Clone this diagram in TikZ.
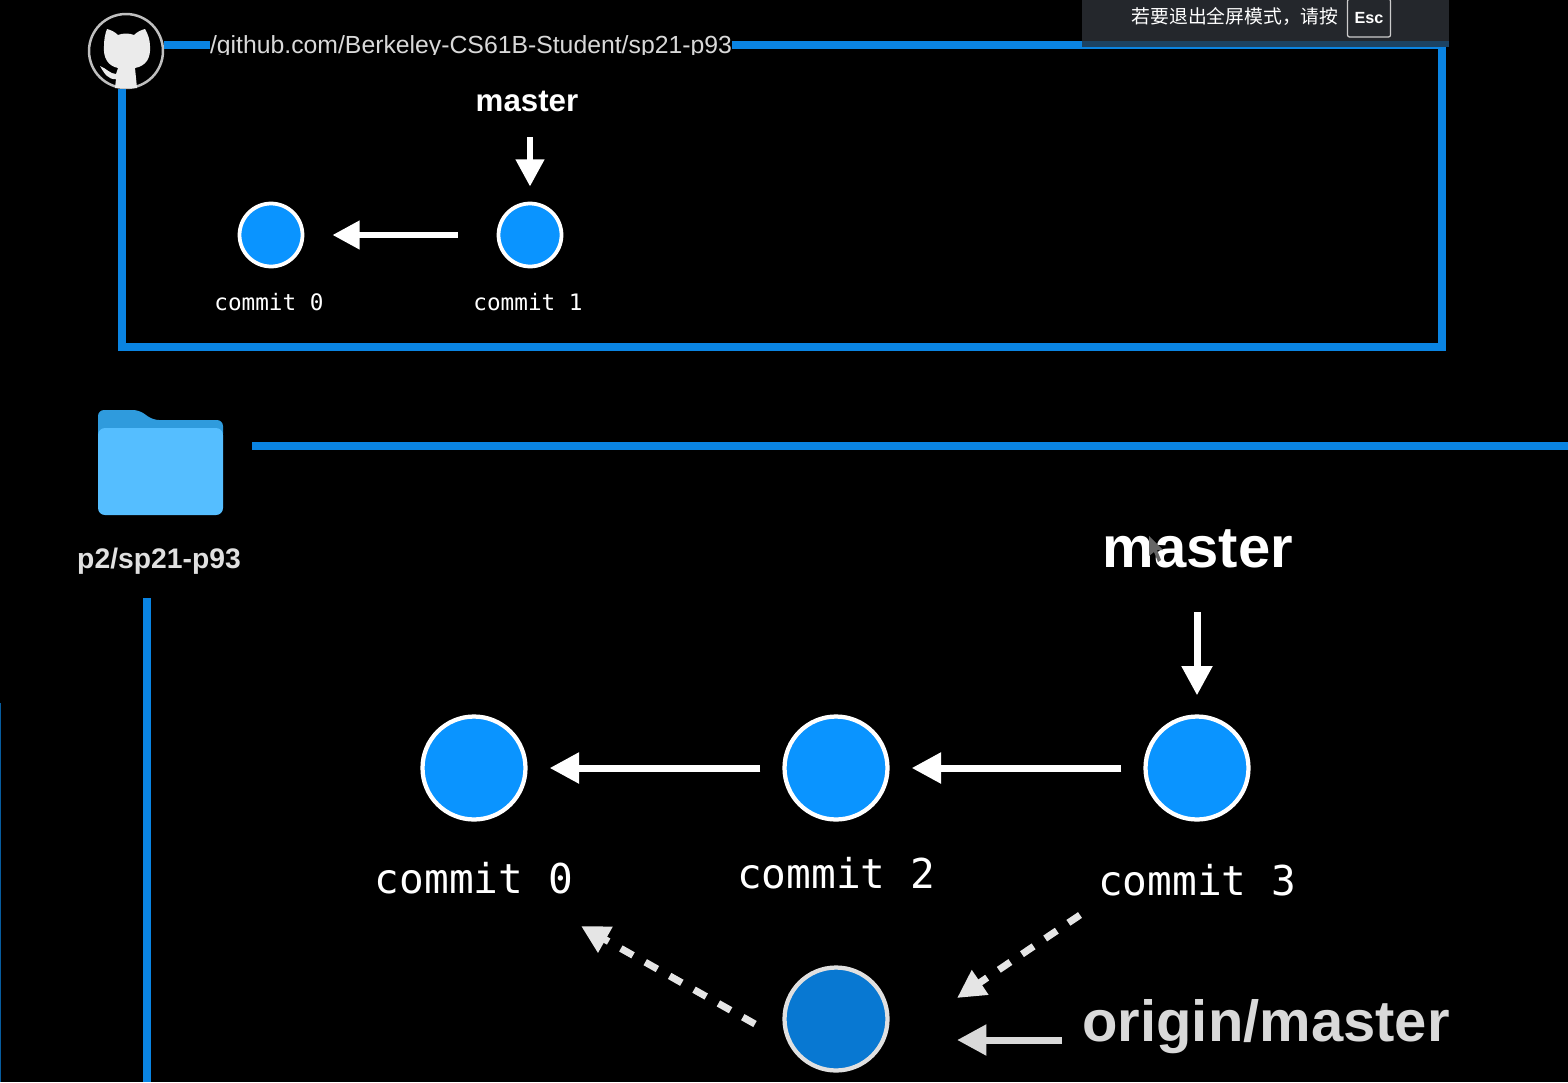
\documentclass[tikz,border=0pt]{standalone}
\usepackage{fontspec}
\usepackage{xcolor}
\setmainfont{Liberation Sans}
\setmonofont{DejaVu Sans Mono}
\newfontfamily\cjk{Noto Sans CJK SC}
\definecolor{linkblue}{HTML}{0A84E2}
\definecolor{commitblue}{HTML}{0A94FF}
\definecolor{originblue}{HTML}{0878D2}
\definecolor{toastgray}{HTML}{24272C}
\definecolor{foldback}{HTML}{2F9BDD}
\definecolor{foldfront}{HTML}{55BEFF}
\usetikzlibrary{arrows.meta, positioning, calc}
\begin{document}
\begin{tikzpicture}[x=0.02cm, y=-0.02cm,
    frame/.style={draw=linkblue, line width=0.15cm},
    commit/.style={circle, draw=white, fill=commitblue, inner sep=0pt, line width=#1},
    small/.style={font=\fontsize{17.8}{20}\selectfont\bfseries, text=white},
    big/.style={font=\fontsize{33}{38}\selectfont\bfseries, text=white},
    lablesmall/.style={font=\ttfamily\fontsize{12.9}{15}\selectfont, text=white},
    lablebig/.style={font=\ttfamily\fontsize{23.4}{27}\selectfont, text=white},
    arrow/.style={draw=white, line width=#1, -{Triangle[length=4.2*#1, width=4.2*#1]}},
    dasharrow/.style={draw=white!90!black, line width=0.14cm, dash pattern=on 0.28cm off 0.28cm,
                      -{Triangle[length=0.56cm, width=0.56cm]}},
]
\useasboundingbox (0,0) rectangle (1568,1082);
\fill[black] (0,0) rectangle (1568,1082);

% repository box
\node[circle, draw=white!75!black, fill=black, line width=0.05cm, minimum size=1.48cm, inner sep=0pt] (hub) at (126,51) {};
\coordinate (boxtl) at (122,45);
\coordinate (boxbr) at (1442,347);
\draw[frame] (hub.east |- boxtl) -- (boxbr |- boxtl) -- (boxbr) -- (boxtl |- boxbr) -- (boxtl |- hub.south);
\fill[white!92!black] (104,46) .. controls (104,40) and (105,34) .. (107,29)
    .. controls (111,30) and (115,32) .. (118,35) .. controls (123,33) and (129,33) .. (134,35)
    .. controls (137,32) and (141,30) .. (145,29) .. controls (148,34) and (150,40) .. (150,46)
    .. controls (151,58) and (146,66) .. (135,68)
    -- (137,88) -- (115,88) -- (116,79) .. controls (108,80) and (104,73) .. (100,66)
    .. controls (106,68) and (110,74) .. (116,74) -- (118,68)
    .. controls (108,66) and (103,58) .. (104,46) -- cycle;
\node[fill=black, inner xsep=0pt, inner ysep=0.06cm, text=white!85!black, font=\fontsize{14.1}{17}\selectfont] (url) at (471,47) {/github.com/Berkeley-CS61B-Student/sp21-p93};
\fill[black] (205,55) rectangle (738,64);

% remote commits
\node[commit=0.075cm, minimum size=1.26cm] (r0) at (271,235) {};
\node[commit=0.075cm, minimum size=1.26cm] (r1) at (530,235) {};
\node[small] (rmaster) at (527,101) {master};
\node[lablesmall] (rl0) at (269,302) {commit 0};
\node[lablesmall] (rl1) at (528,302) {commit 1};
\coordinate (rtop) at (530,137);
\draw[arrow=0.13cm, shorten >=0.3cm] (rtop) -- (r1.north);
\draw[arrow=0.13cm, shorten <=0.78cm, shorten >=0.56cm] (r1) -- (r0);

% local folder
\fill[rounded corners=0.12cm, fill=foldback] (98,440) -- (98,410) -- (139,410) -- (153,420) -- (223,420) -- (223,440) -- cycle;
\fill[rounded corners=0.14cm, fill=foldfront] (98,428) rectangle (223,515);
\node[small, font=\fontsize{16.1}{19}\selectfont\bfseries, text=white!88!black] (folder) at (159,561) {p2/sp21-p93};
\draw[frame] (252,446) -- (1568,446);
\coordinate (vtop) at (147,598);
\draw[frame] (vtop) -- (vtop |- 0,1082);
\draw[draw=linkblue!70!black, line width=0.05cm] (0,703) -- (0,1082);

% local commits
\node[commit=0.085cm, minimum size=2.06cm] (c0) at (474,768) {};
\node[commit=0.085cm, minimum size=2.06cm] (c2) at (836,768) {};
\node[commit=0.085cm, minimum size=2.06cm] (c3) at (1197,768) {};
\node[commit=0.085cm, minimum size=2.06cm, fill=originblue, draw=white!88!black] (origin) at (836,1019) {};
\node[big] (master) at (1198,549) {master};
\fill[black!60] (1149,536) -- (1149,556) -- (1154,552) -- (1158,562) -- (1161,560) -- (1157,550) -- (1163,550) -- cycle;
\node[lablebig] (l0) at (474,878) {commit 0};
\node[lablebig] (l2) at (836,873) {commit 2};
\node[lablebig] (l3) at (1197,880) {commit 3};
\node[big, text=white!85!black] (originl) at (1266,1027) {origin/master};
\coordinate (mtop) at (1197,612);
\draw[arrow=0.14cm, shorten >=0.38cm] (mtop) -- (c3.north);
\draw[arrow=0.14cm, shorten <=0.44cm, shorten >=0.44cm] (c3) -- (c2);
\draw[arrow=0.14cm, shorten <=0.44cm, shorten >=0.44cm] (c2) -- (c0);
\coordinate (d3) at (1080,915);
\coordinate (d3e) at (957,998);
\coordinate (d0) at (755,1024);
\coordinate (d0e) at (581,926);
\draw[dasharrow] (d3) -- (d3e);
\draw[dasharrow] (d0) -- (d0e);
\coordinate (op) at (1062,1040);
\coordinate (ope) at (957,1040);
\draw[arrow=0.14cm, draw=white!85!black] (op) -- (ope);

% exit hint
\fill[toastgray] (1082,0) rectangle (1449,47);
\fill[linkblue!30!toastgray] (1082,41) rectangle (1449,47);
\node[text=white, font=\cjk\fontsize{10.7}{14}\selectfont] (hint) at (1235,17) {若要退出全屏模式，请按};
\node[draw=white!80!black, rounded corners=0.04cm, line width=0.025cm, minimum width=0.86cm, minimum height=0.76cm, inner sep=0pt] (esc) at (1369,18) {};
\node[text=white, font=\fontsize{9.2}{11}\selectfont\bfseries, inner sep=0pt] (esctext) at (1369,18) {Esc};
\end{tikzpicture}
\end{document}
